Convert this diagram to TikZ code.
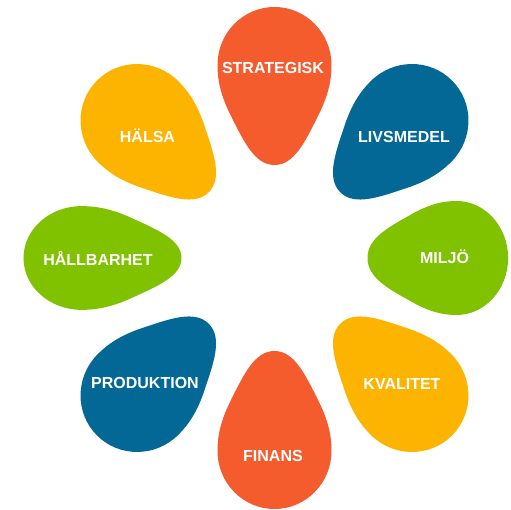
\documentclass[tikz,border=0pt]{standalone}
\usepackage{fontspec}
\setmainfont{Liberation Sans}

\definecolor{petalred}{RGB}{244,92,45}
\definecolor{petalblue}{RGB}{4,104,150}
\definecolor{petalgreen}{RGB}{128,193,0}
\definecolor{petalyellow}{RGB}{253,180,0}

\tikzset{
  egg/.pic={
    \path[pic actions] (0,0) .. controls (0,20) and (24,31) .. (50,44)
      .. controls (70,54) and (85,57) .. (100,57)
      .. controls (132,57) and (158,31.5) .. (158,0)
      .. controls (158,-31.5) and (132,-57) .. (100,-57)
      .. controls (85,-57) and (70,-54) .. (50,-44)
      .. controls (24,-31) and (0,-20) .. (0,0) -- cycle;
  },
  petaltext/.style={text=white, font=\bfseries\fontsize{16}{18}\selectfont}
}

\begin{document}
\begin{tikzpicture}[x=1pt,y=1pt]
		\useasboundingbox (-274.5,-252) rectangle (236.5,258);

		% Petals
		\pic[fill=petalred, rotate=90] at (90:93) {egg}; % top
		\pic[fill=petalblue, rotate=45] at (45:93) {egg};
		\pic[fill=petalgreen, xscale=0.89] at (0:93) {egg}; % right
		\pic[fill=petalyellow, rotate=-45] at (-45:93) {egg};
		\pic[fill=petalred, rotate=-90] at (-90:93) {egg}; % bottom
		\pic[fill=petalblue, rotate=-135] at (-135:93) {egg};
		\pic[fill=petalgreen, rotate=180, yscale=0.91] at (180:93) {egg}; % left
		\pic[fill=petalyellow, rotate=135] at (135:93) {egg};

		% Labels
		\node[petaltext] (strategisk) at (-1.5,190) {STRATEGISK};
		\node[petaltext] (livsmedel) at (129.5,121) {LIVSMEDEL};
		\node[petaltext] (miljo) at (170,1) {MILJÖ};
		\node[petaltext] (kvalitet) at (127.5,-126) {KVALITET};
		\node[petaltext] (finans) at (-1.5,-198) {FINANS};
		\node[petaltext] (produktion) at (-129.5,-125) {PRODUKTION};
		\node[petaltext] (hallbarhet) at (-176.5,0) {HÅLLBARHET};
		\node[petaltext] (halsa) at (-127,122) {HÄLSA};
	\end{tikzpicture}
\end{document}
